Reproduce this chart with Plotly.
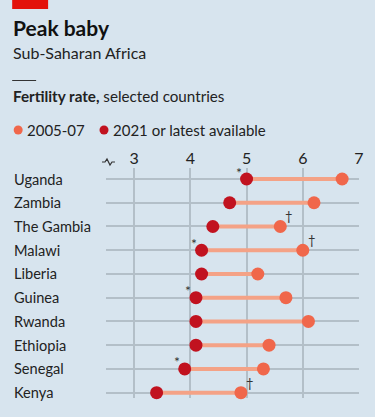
import plotly.graph_objects as go

countries = ["Uganda", "Zambia", "The Gambia", "Malawi", "Liberia",
             "Guinea", "Rwanda", "Ethiopia", "Senegal", "Kenya"]
rate_2005 = [6.7, 6.2, 5.6, 6.0, 5.2, 5.7, 6.1, 5.4, 5.3, 4.9]
rate_2021 = [5.0, 4.7, 4.4, 4.2, 4.2, 4.1, 4.1, 4.1, 3.9, 3.4]
star_2021 = [True, False, False, True, False, True, False, False, True, False]
dagger_2005 = [False, False, True, True, False, False, False, False, False, True]
x_ticks = [3, 4, 5, 6, 7]

W, H = 375, 417
L, R, T, B = 106, 359.5, 168, 398
BG = "#d7e4ee"
C05 = "#f0674b"
C21 = "#c1121f"
LINE = "#f4a286"
FONT = "Lato"

def px(x):
    return (x - L) / (R - L)

def py(y):
    return (B - y) / (B - T)

rows = list(range(len(countries)))
fig = go.Figure()

lx, ly = [], []
for i in rows:
    lx += [rate_2021[i], rate_2005[i], None]
    ly += [i, i, None]
fig.add_trace(go.Scatter(x=lx, y=ly, mode="lines", line=dict(color=LINE, width=4),
                         hoverinfo="skip", showlegend=False, cliponaxis=False))
fig.add_trace(go.Scatter(x=rate_2005, y=rows, mode="markers", name="2005-07",
                         marker=dict(color=C05, size=13), showlegend=False, cliponaxis=False))
fig.add_trace(go.Scatter(x=rate_2021, y=rows, mode="markers", name="2021 or latest available",
                         marker=dict(color=C21, size=13), showlegend=False, cliponaxis=False))

ann = []
for i in rows:
    ann.append(dict(x=px(12), y=i, xref="paper", yref="y", text=countries[i],
                    showarrow=False, xanchor="left", yanchor="middle",
                    font=dict(family=FONT, size=14.6, color="#222")))
    if star_2021[i]:
        ann.append(dict(x=rate_2021[i], y=i, xref="x", yref="y", text="*",
                        showarrow=False, xshift=-8, yshift=7,
                        font=dict(family=FONT, size=14, color="#333")))
    if dagger_2005[i]:
        ann.append(dict(x=rate_2005[i], y=i, xref="x", yref="y", text="†",
                        showarrow=False, xshift=9, yshift=10,
                        font=dict(family=FONT, size=13, color="#333")))

def txt(x, y, text, size, bold=False):
    ann.append(dict(x=px(x), y=py(y), xref="paper", yref="paper", text=text,
                    showarrow=False, xanchor="left", yanchor="middle",
                    font=dict(family=FONT, size=size, color="#111" if bold else "#222")))

txt(11, 27, "<b>Peak baby</b>", 21, True)
txt(11, 52, "Sub-Saharan Africa", 16)
txt(11, 96, "<b>Fertility rate,</b> selected countries", 15.2)
txt(25, 130, "2005-07", 15)
txt(111, 130, "2021 or latest available", 15)

shapes = [
    dict(type="rect", xref="paper", yref="paper", x0=px(12), x1=px(48), y0=py(0), y1=py(9),
         fillcolor="#e3120b", line=dict(width=0)),
    dict(type="line", xref="paper", yref="paper", x0=px(12), x1=px(36), y0=py(80.5), y1=py(80.5),
         line=dict(color="#333", width=1)),
    dict(type="circle", xref="paper", yref="paper", x0=px(13.5), x1=px(22.5), y0=py(125.5), y1=py(134.5),
         fillcolor=C05, line=dict(width=0)),
    dict(type="circle", xref="paper", yref="paper", x0=px(99.5), x1=px(108.5), y0=py(125.5), y1=py(134.5),
         fillcolor=C21, line=dict(width=0)),
]
pts = [(102, 162), (105, 162), (107, 159), (110, 165), (112, 162), (115, 162)]
path = "M " + " L ".join(f"{px(a):.4f},{py(b):.4f}" for a, b in pts)
shapes.append(dict(type="path", xref="paper", yref="paper", path=path,
                   line=dict(color="#333", width=1.2)))

n = len(countries)
step_top = -(179 - T) / 23.75
step_bot = (n - 1) + (B - 392.7) / 23.75

fig.update_layout(
    width=W, height=H,
    margin=dict(l=L, r=W - R, t=T, b=H - B, pad=0),
    paper_bgcolor=BG, plot_bgcolor=BG,
    annotations=ann, shapes=shapes, showlegend=False,
    xaxis=dict(range=[2.5, 7], side="top", tickvals=x_ticks, showgrid=True,
               gridcolor="#b3bfc8", gridwidth=1.5, zeroline=False, showline=False,
               ticks="", tickfont=dict(family=FONT, size=16, color="#222"), fixedrange=True),
    yaxis=dict(range=[step_bot, step_top], tickvals=rows, showticklabels=False,
               showgrid=True, gridcolor="#b3bfc8", gridwidth=1.5, zeroline=False,
               showline=False, ticks="", fixedrange=True),
    hovermode=False,
)

fig.write_html("out.html", config={"displayModeBar": False},
               post_script="document.body.style.margin='0';document.body.style.background='%s';" % BG)
